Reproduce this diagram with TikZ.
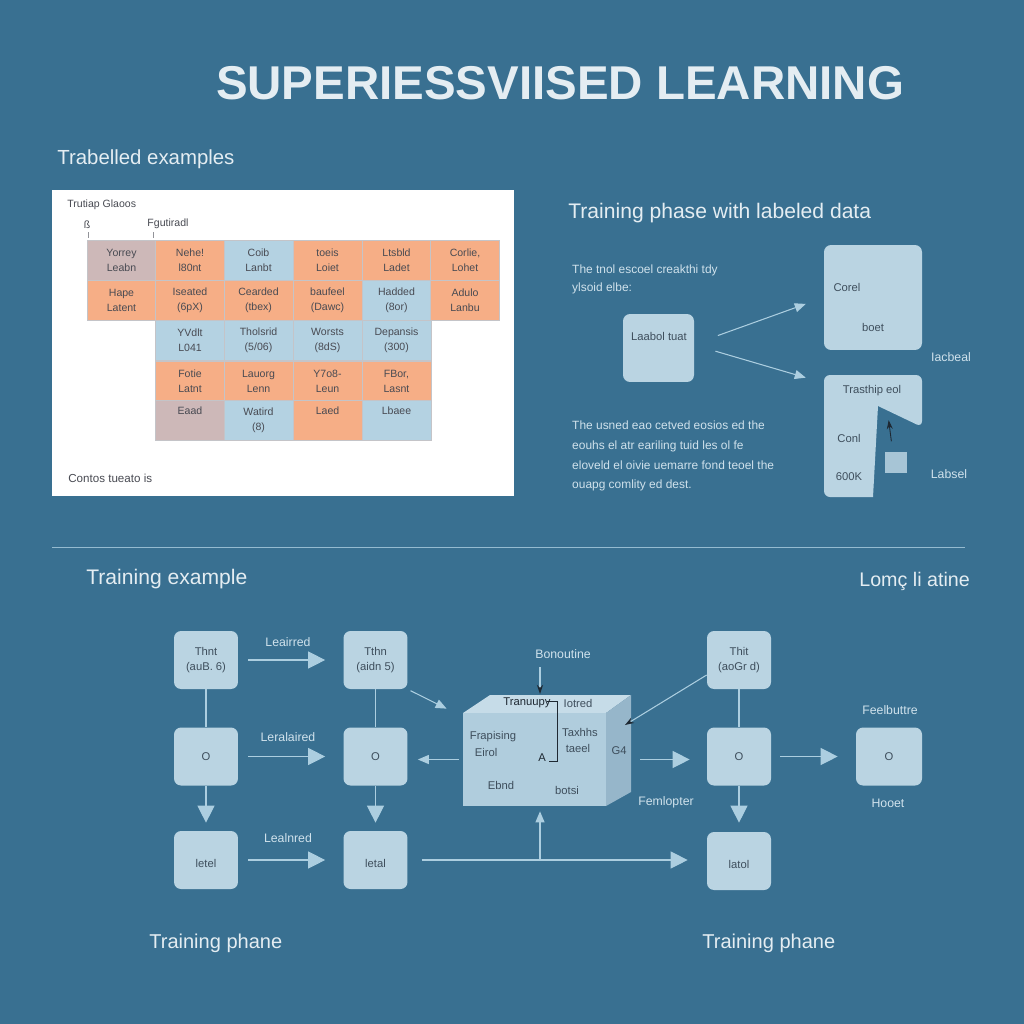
\documentclass[tikz,border=0pt]{standalone}
\usepackage{fontspec}
\setmainfont{Liberation Sans}
\usetikzlibrary{arrows.meta}
\definecolor{bg}{RGB}{57,112,145}
\definecolor{nfill}{RGB}{186,212,226}
\definecolor{lline}{RGB}{172,206,224}
\definecolor{ntext}{RGB}{62,78,92}
\definecolor{ltxt}{RGB}{208,226,236}
\definecolor{htxt}{RGB}{228,237,242}
\definecolor{cor}{RGB}{246,174,134}
\definecolor{cbl}{RGB}{180,210,226}
\definecolor{cgr}{RGB}{205,184,184}
\definecolor{cline}{RGB}{196,196,200}
\definecolor{ink}{RGB}{72,74,82}
\definecolor{cfront}{RGB}{176,205,221}
\definecolor{ctop}{RGB}{198,220,232}
\definecolor{cside}{RGB}{150,182,202}
\definecolor{dark}{RGB}{30,40,50}
\begin{document}
\begin{tikzpicture}[x=0.02cm,y=-0.02cm,
  heading/.style={text=htxt, inner sep=0, font=\fontsize{12}{14}\selectfont},
  lbl/.style={text=ltxt, font=\fontsize{7}{9}\selectfont},
  small/.style={text=ntext, font=\fontsize{6.4}{8}\selectfont, inner sep=0},
  bnode/.style={fill=nfill, rounded corners=0.14cm, minimum width=1.28cm, minimum height=1.16cm, inner sep=0, align=center, text=ntext, font=\fontsize{6.4}{8.5}\selectfont},
  cell/.style={draw=cline, line width=0.4pt, minimum width=1.38cm, minimum height=0.8cm, inner sep=0, align=center, text=ink, font=\fontsize{6}{8.6}\selectfont},
  conn/.style={draw=lline, line width=0.6pt},
  bigtip/.style={-{Triangle[length=0.34cm,width=0.34cm]}},
  midtip/.style={-{Triangle[length=0.22cm,width=0.18cm]}},
  darktip/.style={-{Stealth[length=0.18cm,width=0.12cm,color=dark]}},
]
\useasboundingbox (0,0) rectangle (1024,1024);
\fill[bg] (0,0) rectangle (1024,1024);

% title
\node[text=htxt, font=\bfseries\fontsize{27}{30}\selectfont] (title) at (560,83) {SUPERIESSVIISED LEARNING};

% ---------- top left: labelled examples ----------
\node[heading, anchor=west, font=\fontsize{11.6}{14}\selectfont] (hTL) at (57,159) {Trabelled examples};
\node[fill=white, minimum width=9.24cm, minimum height=6.12cm, inner sep=0] (panel) at (283,343) {};
\node[small, text=ink, anchor=west, font=\fontsize{6}{8}\selectfont] (ptitle) at (67,205) {Trutiap Glaoos};
\node[small, text=ink, font=\fontsize{6}{8}\selectfont] (lbB) at (87,225) {ß};
\node[small, text=ink, font=\fontsize{6}{8}\selectfont] (lbF) at (168,224) {Fgutiradl};
\draw[cline!60!ink, line width=0.4pt] (lbB.south) ++(1,3) -- ++(0,6);
\draw[cline!60!ink, line width=0.4pt] (lbF.south west) ++(6,3) -- ++(0,6);

\node[cell, fill=cgr] (c11) at (121.5,260.5) {Yorrey\\Leabn};
\node[cell, fill=cor] (c12) at (190,260.5) {Nehe!\\l80nt};
\node[cell, fill=cbl] (c13) at (258.5,260.5) {Coib\\Lanbt};
\node[cell, fill=cor] (c14) at (327.5,260.5) {toeis\\Loiet};
\node[cell, fill=cor] (c15) at (396.5,260.5) {Ltsbld\\Ladet};
\node[cell, fill=cor] (c16) at (465,260.5) {Corlie,\\Lohet};

\node[cell, fill=cor] (c21) at (121.5,300) {Hape\\Latent};
\node[cell, fill=cor] (c22) at (190,300) {Iseated\\(6pX)};
\node[cell, fill=cor] (c23) at (258.5,300) {Cearded\\(tbex)};
\node[cell, fill=cor] (c24) at (327.5,300) {baufeel\\(Dawc)};
\node[cell, fill=cbl] (c25) at (396.5,300) {Hadded\\(8or)};
\node[cell, fill=cor] (c26) at (465,300) {Adulo\\Lanbu};

\node[cell, fill=cbl] (c32) at (190,340.5) {YVdlt\\L041};
\node[cell, fill=cbl] (c33) at (258.5,340.5) {Tholsrid\\(5/06)};
\node[cell, fill=cbl] (c34) at (327.5,340.5) {Worsts\\(8dS)};
\node[cell, fill=cbl] (c35) at (396.5,340.5) {Depansis\\(300)};

\node[cell, fill=cor] (c42) at (190,381) {Fotie\\Latnt};
\node[cell, fill=cor] (c43) at (258.5,381) {Lauorg\\Lenn};
\node[cell, fill=cor] (c44) at (327.5,381) {Y7o8-\\Leun};
\node[cell, fill=cor] (c45) at (396.5,381) {FBor,\\Lasnt};

\node[cell, fill=cgr] (c52) at (190,420) {Eaad\\\strut};
\node[cell, fill=cbl] (c53) at (258.5,420) {Watird\\(8)};
\node[cell, fill=cor] (c54) at (327.5,420) {Laed\\\strut};
\node[cell, fill=cbl] (c55) at (396.5,420) {Lbaee\\\strut};

\node[small, text=ink, anchor=west, font=\fontsize{6.6}{8}\selectfont] (ptail) at (68,478) {Contos tueato is};

% ---------- top right ----------
\node[heading, anchor=west] (hTR) at (568,213) {Training phase with labeled data};
\node[lbl, anchor=north west, align=left, font=\fontsize{6.8}{10.2}\selectfont] (para1) at (566,259) {The tnol escoel creakthi tdy\\ylsoid elbe:};
\node[lbl, anchor=north west, align=left, font=\fontsize{6.8}{11.2}\selectfont] (para2) at (566,415) {The usned eao cetved eosios ed the\\eouhs el atr eariling tuid les ol fe\\eloveld el oivie uemarre fond teoel the\\ouapg comlity ed dest.};

\node[bnode, minimum width=1.42cm, minimum height=1.36cm] (lb) at (658.5,348) {};
\node[small] at (659,336) {Laabol tuat};
\node[bnode, minimum width=1.96cm, minimum height=2.1cm] (tr1) at (873,297.5) {};
\node[small] at (847,287) {Corel};
\node[small] at (873,327) {boet};
\node[lbl] (lab1) at (951,357) {Iacbeal};

\coordinate (tr2) at (824,375);
\fill[nfill, rounded corners=0.12cm] (824,375) -- (922,375) -- (922,427) [sharp corners] -- (878,406) -- (873,497) [rounded corners=0.12cm] -- (824,497) -- cycle;
\node[small] at (872,391) {Trasthip eol};
\node[small] at (849,438) {Conl};
\node[small] at (849,477) {600K};
\node[fill=nfill!85!bg, minimum width=0.44cm, minimum height=0.42cm, inner sep=0] (sq) at (896,462) {};
\draw[dark, line width=0.5pt, darktip, shorten <=0.2cm] (sq.north west) ++(8,0) -- ++(-4,-31);
\node[lbl] (lab2) at (949,474) {Labsel};

\draw[conn, midtip, shorten <=0.5cm, shorten >=0.38cm] ([yshift=0.08cm]lb.east) -- (tr1.west);
\draw[conn, midtip, shorten <=0.44cm, shorten >=0.38cm] ([yshift=0.06cm]lb.east) -- ([yshift=-0.16cm]tr2);

% separator
\draw[lline!80!bg, line width=0.5pt] (52,547) -- (965,547);

% ---------- bottom ----------
\node[heading, anchor=west] (hBL) at (86,579) {Training example};
\node[heading, anchor=west, font=\fontsize{11.2}{14}\selectfont] (hBR) at (859,581) {Lomç li atine};

\node[bnode] (A1) at (206,660) {Thnt\\(auB. 6)};
\node[bnode] (A2) at (206,756.5) {O};
\node[bnode] (A3) at (206,860) {\\letel};
\node[bnode] (B1) at (375.5,660) {Tthn\\(aidn 5)};
\node[bnode] (B2) at (375.5,756.5) {O};
\node[bnode] (B3) at (375.5,860) {\\letal};
\node[bnode] (C1) at (739,660) {Thit\\(aoGr d)};
\node[bnode] (C2) at (739,756.5) {O};
\node[bnode] (C3) at (739,861) {\\latol};
\node[bnode, minimum width=1.32cm] (D) at (889,756.5) {O};
\node[lbl] (lD1) at (890,710) {Feelbuttre};
\node[lbl] (lD2) at (888,803) {Hooet};
\node[lbl] (lF) at (666,802) {Femlopter};

% cube
\fill[ctop] (463,713) -- (490,695) -- (631,695) -- (606,713) -- cycle;
\fill[cside] (606,713) -- (631,695) -- (631,792) -- (606,806) -- cycle;
\node[fill=cfront, minimum width=2.86cm, minimum height=1.86cm, inner sep=0] (cube) at (534.5,759.5) {};
\coordinate (cubetop) at (540,694);
\coordinate (cubeside) at (625,725);
\node[small, text=dark] at (527,703) {Tranuupy};
\node[small] at (578,703) {Iotred};
\node[small] at (493,737) {Frapising};
\node[small] at (486,752) {Eirol};
\node[small] at (580,732) {Taxhhs};
\node[small] at (578,748) {taeel};
\node[small, text=dark] at (542,758) {A};
\node[small] at (501,785) {Ebnd};
\node[small] at (567,790) {botsi};
\node[small] at (619,751) {G4};
\draw[dark, line width=0.5pt] (547,701) -- (557,701) -- (557,761) -- (549,761);
\node[lbl] (lBon) at (563,654) {Bonoutine};
\coordinate (bonst) at (540,667);
\draw[lline, line width=0.6pt, darktip] (bonst) -- (cubetop);

% labels on arrows
\node[lbl] (l1) at (288,642) {Leairred};
\node[lbl] (l2) at (288,737) {Leralaired};
\node[lbl] (l3) at (288,838) {Lealnred};

% connectors
\draw[conn, bigtip, shorten <=0.2cm, shorten >=0.36cm] (A1.east) -- (B1.west);
\draw[conn, bigtip, shorten <=0.2cm, shorten >=0.36cm] (A2.east) -- (B2.west);
\draw[conn, bigtip, shorten <=0.2cm, shorten >=0.36cm] (A3.east) -- (B3.west);
\draw[conn] (A1) -- (A2);
\draw[conn, bigtip, shorten >=0.16cm] (A2) -- (A3);
\draw[conn] (B1) -- (B2);
\draw[conn, bigtip, shorten >=0.16cm] (B2) -- (B3);
\draw[conn] (C1) -- (C2);
\draw[conn, bigtip, shorten >=0.18cm] (C2) -- (C3);
\draw[conn, midtip, shorten <=0.06cm, shorten >=0.18cm] (B1.south east) -- ([xshift=-0.16cm]cube.north west);
\draw[conn, midtip, shorten <=0.08cm, shorten >=0.2cm] (cube.west) -- (cube.west -| B2.east);
\draw[conn, bigtip, shorten <=0.28cm, shorten >=0.38cm] (B3.east) -- (B3.east -| C3.west);
\coordinate (junc) at (540,860);
\draw[conn, midtip, shorten >=0.1cm] (junc) -- (junc |- cube.south);
\draw[conn, bigtip, shorten <=0.68cm, shorten >=0.34cm] (cube.east) -- (cube.east -| C2.west);
\draw[conn, bigtip, shorten <=0.18cm, shorten >=0.36cm] (C2.east) -- (D.west);
\draw[conn, darktip] ([yshift=-0.3cm]C1.west) -- (cubeside);

\node[heading, anchor=west, font=\fontsize{11.4}{14}\selectfont] (tp1) at (149,943) {Training phane};
\node[heading, anchor=west, font=\fontsize{11.4}{14}\selectfont] (tp2) at (702,943) {Training phane};
\end{tikzpicture}
\end{document}
